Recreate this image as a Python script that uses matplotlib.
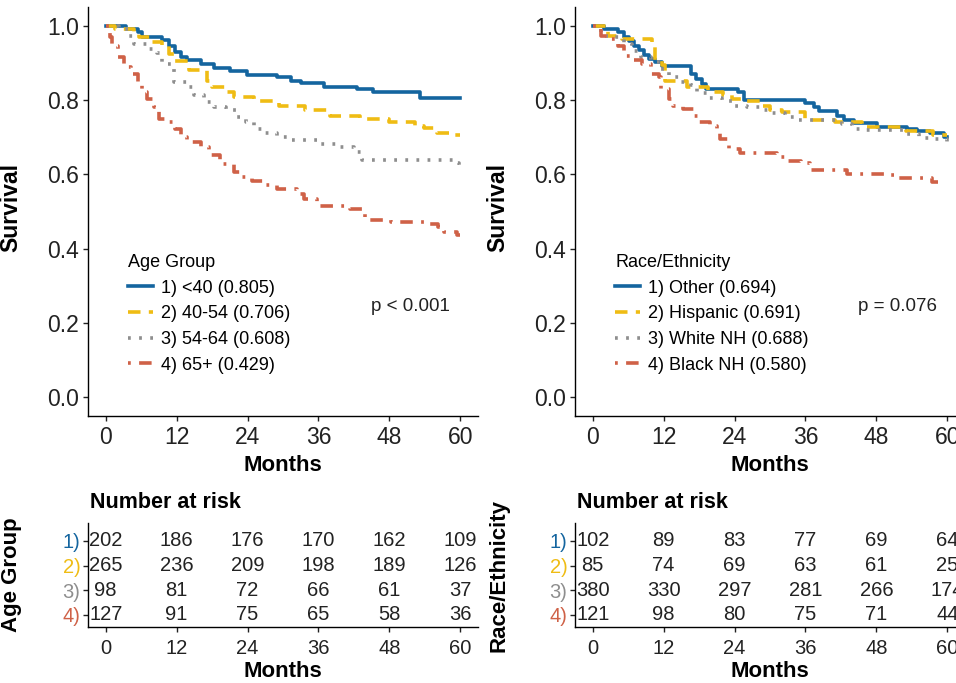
import numpy as np
import matplotlib
matplotlib.use("Agg")
import matplotlib.pyplot as plt

plt.rcParams['font.family'] = ['Liberation Sans', 'DejaVu Sans']
plt.rcParams['lines.scale_dashes'] = False

# ---- data ----
months = [0, 12, 24, 36, 48, 60]
colors = ['#14659F', '#EFBC14', '#8E8E8E', '#CF6147']
dashes = [None, (9, 6), (2, 6), (2, 6, 9, 6)]

age_labels = ['1) <40 (0.805)', '2) 40-54 (0.706)', '3) 54-64 (0.608)', '4) 65+ (0.429)']
age_t1 = [0, 3.4, 5.4, 6.2, 9.6, 10.7, 11.8, 12.7, 13.8, 16.1, 18.3, 21.1, 23.9, 29.0, 31.3,
          33.0, 36.9, 42.5, 45.3, 53.2, 60]
age_s1 = [1.0, 0.991, 0.982, 0.969, 0.960, 0.946, 0.928, 0.915, 0.908, 0.897, 0.886, 0.877,
          0.868, 0.861, 0.852, 0.845, 0.836, 0.830, 0.821, 0.806, 0.806]
age_t2 = [0, 1.5, 4.8, 5.6, 7.9, 9.6, 10.7, 11.8, 14.1, 17.2, 18.0, 20.6, 21.7, 25.1, 29.3,
          33.8, 38.0, 43.1, 47.9, 52.4, 53.8, 56.1, 59.0, 60]
age_s2 = [1.0, 0.991, 0.978, 0.969, 0.955, 0.946, 0.924, 0.906, 0.881, 0.852, 0.834, 0.821,
          0.807, 0.797, 0.785, 0.773, 0.758, 0.749, 0.742, 0.731, 0.725, 0.711, 0.706, 0.706]
age_t3 = [0, 2.3, 3.9, 4.8, 7.0, 8.7, 9.6, 11.5, 13.8, 14.9, 16.6, 18.3, 20.3, 22.0, 23.7,
          25.1, 26.8, 29.0, 31.3, 35.8, 39.7, 42.0, 43.4, 58.9, 59.7, 60]
age_s3 = [1.0, 0.991, 0.973, 0.951, 0.937, 0.926, 0.897, 0.848, 0.834, 0.812, 0.794, 0.782,
          0.772, 0.754, 0.740, 0.722, 0.711, 0.700, 0.693, 0.682, 0.673, 0.659, 0.639, 0.630,
          0.606, 0.606]
age_t4 = [0, 0.8, 1.1, 2.0, 3.1, 4.2, 5.4, 6.2, 7.0, 8.2, 9.0, 10.4, 11.8, 12.7, 13.8, 16.1,
          17.5, 19.4, 21.7, 22.8, 24.8, 26.8, 29.0, 32.4, 33.5, 35.8, 41.4, 43.4, 43.9, 48.2,
          53.8, 56.3, 57.2, 59.4, 60]
age_s4 = [1.0, 0.969, 0.946, 0.915, 0.888, 0.870, 0.848, 0.821, 0.803, 0.780, 0.749, 0.740,
          0.722, 0.700, 0.686, 0.673, 0.651, 0.628, 0.606, 0.592, 0.581, 0.570, 0.561, 0.546,
          0.534, 0.516, 0.507, 0.494, 0.476, 0.471, 0.467, 0.458, 0.444, 0.438, 0.438]
age_risk = [[202, 186, 176, 170, 162, 109],
            [265, 236, 209, 198, 189, 126],
            [98, 81, 72, 66, 61, 37],
            [127, 91, 75, 65, 58, 36]]

race_labels = ['1) Other (0.694)', '2) Hispanic (0.691)', '3) White NH (0.688)', '4) Black NH (0.580)']
race_t1 = [0, 1.9, 4.2, 5.3, 6.1, 7.0, 7.8, 8.7, 9.5, 10.6, 11.8, 16.6, 17.4, 18.5, 19.1, 24.5,
           25.6, 36.0, 37.4, 38.3, 41.4, 42.5, 44.2, 48.1, 53.2, 54.9, 57.1, 59.4, 60]
race_s1 = [1.0, 0.991, 0.982, 0.969, 0.958, 0.946, 0.935, 0.922, 0.910, 0.901, 0.890, 0.870,
           0.857, 0.843, 0.830, 0.821, 0.800, 0.791, 0.780, 0.770, 0.758, 0.746, 0.737, 0.728,
           0.722, 0.716, 0.711, 0.700, 0.700]
race_t2 = [0, 2.5, 5.0, 10.0, 10.5, 11.8, 12.3, 16.0, 19.5, 22.0, 23.5, 26.0, 28.5, 30.0, 32.0,
           36.0, 41.0, 45.5, 53.0, 57.5, 60]
race_s2 = [1.0, 0.973, 0.964, 0.952, 0.905, 0.893, 0.852, 0.836, 0.821, 0.812, 0.803, 0.797,
           0.785, 0.774, 0.767, 0.745, 0.742, 0.728, 0.716, 0.707, 0.707]
race_t3 = [0, 1.4, 2.2, 3.8, 5.3, 6.7, 8.1, 9.8, 11.5, 12.9, 14.6, 16.6, 17.7, 19.7, 21.9, 23.9,
           26.1, 28.4, 30.4, 32.6, 34.6, 42.2, 43.9, 45.8, 52.9, 55.2, 57.7, 59.9, 60]
race_s3 = [1.0, 0.982, 0.973, 0.969, 0.951, 0.933, 0.915, 0.901, 0.884, 0.861, 0.848, 0.839,
           0.818, 0.806, 0.797, 0.785, 0.780, 0.772, 0.764, 0.755, 0.745, 0.736, 0.722, 0.718,
           0.709, 0.698, 0.695, 0.686, 0.686]
race_t4 = [0, 1.4, 2.5, 4.2, 5.3, 6.4, 8.4, 9.8, 11.2, 11.5, 12.9, 13.5, 15.2, 17.1, 18.0, 19.9,
           21.1, 21.6, 23.0, 25.0, 31.2, 32.9, 35.2, 36.8, 43.0, 50.4, 51.5, 57.4, 58.5]
race_s4 = [1.0, 0.973, 0.964, 0.944, 0.917, 0.908, 0.897, 0.870, 0.861, 0.830, 0.803, 0.785,
           0.776, 0.758, 0.740, 0.731, 0.713, 0.695, 0.668, 0.657, 0.646, 0.637, 0.630, 0.612,
           0.601, 0.597, 0.590, 0.579, 0.579]
race_risk = [[102, 89, 83, 77, 69, 64],
             [85, 74, 69, 63, 61, 25],
             [380, 330, 297, 281, 266, 174],
             [121, 98, 80, 75, 71, 44]]

W, H = 956, 683
fig = plt.figure(figsize=(W / 100, H / 100), dpi=100)


def px_axes(x0, x1, ytop, ybot):
    return fig.add_axes([x0 / W, 1 - ybot / H, (x1 - x0) / W, (ybot - ytop) / H])


def style(ax):
    for s in ['top', 'right']:
        ax.spines[s].set_visible(False)
    for s in ['left', 'bottom']:
        ax.spines[s].set_linewidth(1.0)
    ax.tick_params(length=3.5, width=1.0, color='#222222', labelcolor='#222222')
    ax.set_xlim(-3, 63)
    ax.set_xticks(months)


def km_panel(ax, curves, labels, title, ptext):
    style(ax)
    for (t, s), c, d, lab in zip(curves, colors, dashes, labels):
        line, = ax.step(t, s, where='post', color=c, lw=2.6, label=lab)
        if d is not None:
            line.set_dashes(d)
    ax.set_ylim(-0.05, 1.05)
    ax.set_yticks([0, 0.2, 0.4, 0.6, 0.8, 1.0])
    ax.set_yticklabels(['0.0', '0.2', '0.4', '0.6', '0.8', '1.0'])
    ax.tick_params(labelsize=16.5, pad=3)
    ax.tick_params(axis='x', pad=4)
    ax.set_ylabel('Survival', fontsize=16.5, fontweight='bold')
    ax.yaxis.set_label_coords(-0.168, 0.51)
    ax.set_xlabel('Months', fontsize=16, fontweight='bold', va='center')
    ax.xaxis.set_label_coords(0.5, -0.12)
    leg = ax.legend(title=title, loc='upper left', bbox_to_anchor=(0.08, 0.418),
                    frameon=False, fontsize=13, title_fontsize=13, borderpad=0,
                    handlelength=1.35, handletextpad=0.45, labelspacing=0.48)
    leg._legend_box.align = 'left'
    ax.text(51.6, 0.245, ptext, fontsize=13.5, ha='center', va='center', color='#222222')


def risk_panel(ax, risk, ylab):
    style(ax)
    ax.set_ylim(0.50, 4.73)
    rows = [4, 3, 2, 1]
    for r, y in zip(risk, rows):
        for m, n in zip(months, r):
            ax.text(m, y, str(n), fontsize=14.5, ha='center', va='center', color='#222222')
    ax.set_yticks(rows)
    ax.set_yticklabels(['1)', '2)', '3)', '4)'])
    ax.tick_params(labelsize=14.5, pad=2)
    ax.tick_params(axis='x', pad=5)
    for lab, c in zip(ax.get_yticklabels(), colors):
        lab.set_color(c)
    ax.set_ylabel(ylab, fontsize=16, fontweight='bold')
    ax.yaxis.set_label_coords(-0.168, 0.5)
    ax.set_xlabel('Months', fontsize=16, fontweight='bold', va='center')
    ax.xaxis.set_label_coords(0.5, -0.425)
    ax.text(0.005, 1.2, 'Number at risk', transform=ax.transAxes, fontsize=15.5,
            fontweight='bold', ha='left', va='center')


ax1 = px_axes(88, 478, 7, 416)
km_panel(ax1, [(age_t1, age_s1), (age_t2, age_s2), (age_t3, age_s3), (age_t4, age_s4)],
         age_labels, 'Age Group', 'p < 0.001')
ax2 = px_axes(575, 965, 7, 416)
km_panel(ax2, [(race_t1, race_s1), (race_t2, race_s2), (race_t3, race_s3), (race_t4, race_s4)],
         race_labels, 'Race/Ethnicity', 'p = 0.076')

ax3 = px_axes(88, 478, 523, 627)
risk_panel(ax3, age_risk, 'Age Group')
ax4 = px_axes(575, 965, 523, 627)
risk_panel(ax4, race_risk, 'Race/Ethnicity')

fig.savefig('out.png', dpi=100)
